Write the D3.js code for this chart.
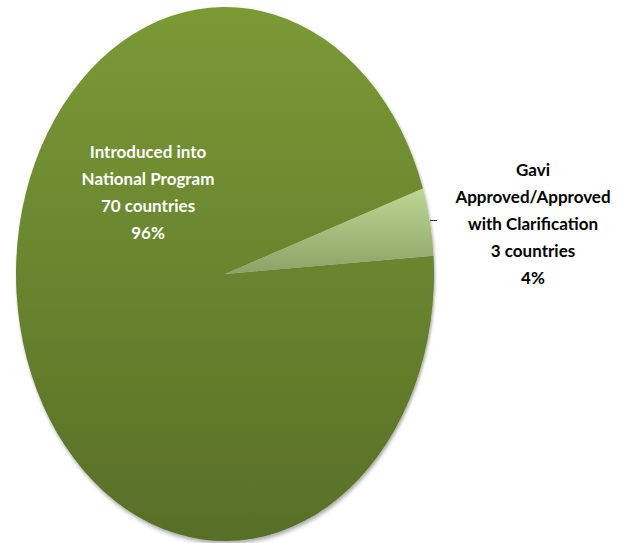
<!DOCTYPE html>
<html>
<head>
<meta charset="utf-8">
<script src="https://cdn.jsdelivr.net/npm/d3@7"></script>
<style>
  body { margin: 0; background: #fff; }
  svg { display: block; }
</style>
</head>
<body>
<div id="chart"></div>
<script>
// data
var categories = ["Introduced into National Program", "Gavi Approved/Approved with Clarification"];
var countries = [70, 3];
var percents = ["96%", "4%"];
var labelLines = [
  ["Introduced into", "National Program", "70 countries", "96%"],
  ["Gavi", "Approved/Approved", "with Clarification", "3 countries", "4%"]
];

var width = 622;
var height = 543;

// pie is drawn as an ellipse
var cx = 225, cy = 274;
var rx = 209, ry = 267;

var svg = d3.select("#chart")
  .append("svg")
  .attr("width", width)
  .attr("height", height);

var defs = svg.append("defs");

var grads = [
  { id: "g0", top: "#7a9a35", bottom: "#586f28" },
  { id: "g1", top: "#bcd893", bottom: "#8aa367" }
];
grads.forEach(function(g) {
  var lg = defs.append("linearGradient")
    .attr("id", g.id)
    .attr("x1", 0).attr("y1", 0).attr("x2", 0).attr("y2", 1);
  lg.append("stop").attr("offset", "0%").attr("stop-color", g.top);
  lg.append("stop").attr("offset", "100%").attr("stop-color", g.bottom);
});

var shadow = defs.append("filter")
  .attr("id", "shadow")
  .attr("x", "-10%").attr("y", "-10%")
  .attr("width", "120%").attr("height", "120%");
shadow.append("feDropShadow")
  .attr("dx", 1).attr("dy", 2)
  .attr("stdDeviation", 1.5)
  .attr("flood-color", "#000")
  .attr("flood-opacity", 0.35);

// start the big slice just under 3 o'clock so the small one sits above it
var start = 86.1 * Math.PI / 180;
var pie = d3.pie()
  .sort(null)
  .value(function(d) { return d; })
  .startAngle(start)
  .endAngle(start + 2 * Math.PI);

var arcs = pie(countries);

var arc = d3.arc().innerRadius(0).outerRadius(rx);

var g = svg.append("g")
  .attr("transform", "translate(" + cx + "," + cy + ") scale(1," + (ry / rx) + ")");

g.append("g")
  .attr("filter", "url(#shadow)")
  .selectAll("path")
  .data(arcs)
  .enter()
  .append("path")
  .attr("d", arc)
  .attr("fill", function(d, i) { return "url(#g" + i + ")"; });

// leader line for the small slice
svg.append("line")
  .attr("x1", 430).attr("x2", 437)
  .attr("y1", 220.5).attr("y2", 220.5)
  .attr("stroke", "#333")
  .attr("stroke-width", 1);

var font = "Lato, 'Open Sans', sans-serif";

// label inside the big slice
svg.append("text")
  .attr("x", 148)
  .attr("y", 158)
  .attr("text-anchor", "middle")
  .attr("fill", "#fff")
  .style("font-family", font)
  .style("font-weight", "bold")
  .style("font-size", "17px")
  .selectAll("tspan")
  .data(labelLines[0])
  .enter()
  .append("tspan")
  .attr("x", 148)
  .attr("dy", function(d, i) { return i === 0 ? 0 : 27; })
  .text(function(d) { return d; });

// label outside for the small slice
svg.append("text")
  .attr("x", 533)
  .attr("y", 176)
  .attr("text-anchor", "middle")
  .attr("fill", "#000")
  .style("font-family", font)
  .style("font-weight", "bold")
  .style("font-size", "17px")
  .selectAll("tspan")
  .data(labelLines[1])
  .enter()
  .append("tspan")
  .attr("x", 533)
  .attr("dy", function(d, i) { return i === 0 ? 0 : 27; })
  .text(function(d) { return d; });
</script>
</body>
</html>
